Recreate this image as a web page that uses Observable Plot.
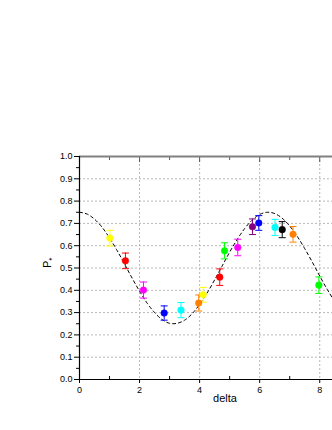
<!DOCTYPE html>
<html>
<head>
<meta charset="utf-8">
<script src="https://cdn.jsdelivr.net/npm/d3@7"></script>
<script src="https://cdn.jsdelivr.net/npm/@observablehq/plot@0.6"></script>
<style>
  html, body { margin: 0; padding: 0; background: #fff; overflow: hidden; }
  #chart { width: 332px; height: 430px; overflow: hidden; }
  #chart svg { max-width: none !important; height: 430px !important; width: 380px !important; display: block; }
</style>
</head>
<body>
<div id="chart"></div>
<script>
// measured points
const deltas = [1.01, 1.53, 2.13, 2.82, 3.38, 3.97, 4.12, 4.67, 4.83, 5.27, 5.76, 5.97, 6.51, 6.75, 7.11, 7.97];
const pvals  = [0.634, 0.532, 0.401, 0.298, 0.311, 0.343, 0.380, 0.459, 0.577, 0.592, 0.685, 0.702, 0.682, 0.672, 0.651, 0.423];
const errs   = [0.035, 0.035, 0.036, 0.032, 0.034, 0.036, 0.033, 0.037, 0.036, 0.037, 0.035, 0.033, 0.036, 0.036, 0.035, 0.037];
const colors = ["#ffff00", "#ff0000", "#ff00ff", "#0000ff", "#00ffff", "#ff8000", "#ffff00", "#ff0000",
                "#00ff00", "#ff00ff", "#800080", "#0000ff", "#00ffff", "#000000", "#ff8000", "#00ff00"];

// dashed theory curve
const curveX = [0, 0.25, 0.5, 0.75, 1, 1.25, 1.5, 1.75, 2, 2.25, 2.5, 2.75, 3, 3.25, 3.5, 3.75, 4, 4.25,
                4.5, 4.75, 5, 5.25, 5.5, 5.75, 6, 6.25, 6.5, 6.75, 7, 7.25, 7.5, 7.75, 8, 8.25, 8.5];
const curveY = [0.750, 0.742, 0.719, 0.683, 0.635, 0.579, 0.518, 0.455, 0.396, 0.343, 0.300, 0.269, 0.252, 0.252,
                0.266, 0.295, 0.337, 0.388, 0.447, 0.509, 0.571, 0.628, 0.677, 0.715, 0.740, 0.750, 0.744, 0.723,
                0.688, 0.642, 0.587, 0.527, 0.464, 0.404, 0.349];

// axis ticks
const yMajor = [0, 0.1, 0.2, 0.3, 0.4, 0.5, 0.6, 0.7, 0.8, 0.9, 1.0];
const yMinor = [0.05, 0.15, 0.25, 0.35, 0.45, 0.55, 0.65, 0.75, 0.85, 0.95];
const yGrid  = [0.1, 0.2, 0.3, 0.4, 0.5, 0.6, 0.7, 0.8, 0.9];
const xMajor = [0, 2, 4, 6, 8];
const xMinor = [1, 3, 5, 7, 9];
const xGrid  = [2, 4, 6, 8];

const points = deltas.map((d, i) => ({x: d, y: pvals[i], lo: pvals[i] - errs[i], hi: pvals[i] + errs[i], c: colors[i]}));
const curve = curveX.map((d, i) => ({x: d, y: curveY[i]}));

const capSymbol = {
  draw(ctx, size) {
    const r = Math.sqrt(size / Math.PI);
    ctx.moveTo(-r, 0);
    ctx.lineTo(r, 0);
  }
};

const chart = Plot.plot({
  width: 380,
  height: 430,
  marginLeft: 79,
  marginRight: 10,
  marginTop: 156,
  marginBottom: 51,
  style: {fontFamily: "'Liberation Sans', Arial, sans-serif", fontSize: "9px", background: "#fff", maxWidth: "none"},
  x: {domain: [0, 9.69]},
  y: {domain: [0, 1]},
  marks: [
    Plot.gridY(yGrid, {stroke: "#b8b8b8", strokeOpacity: 1, strokeDasharray: "2,2"}),
    Plot.gridX(xGrid, {stroke: "#b8b8b8", strokeOpacity: 1, strokeDasharray: "2,2"}),
    Plot.axisY(yMajor, {tickSize: 5, tickPadding: 2, tickFormat: d3.format(".1f"), label: null, fontSize: 9, color: "#000"}),
    Plot.axisY(yMinor, {tickSize: 3, tickFormat: () => "", label: null}),
    Plot.axisX(xMajor, {tickSize: 4, tickPadding: 3, tickFormat: d3.format("d"), label: null, fontSize: 9}),
    Plot.axisX(xMinor, {tickSize: 3, dy: -3, tickFormat: () => "", label: null}),
    Plot.axisX(xMajor, {anchor: "top", tickSize: 5, dy: 5, tickFormat: () => "", label: null, stroke: "#555"}),
    Plot.axisX(xMinor, {anchor: "top", tickSize: 3, dy: 3, tickFormat: () => "", label: null, stroke: "#555"}),
    Plot.ruleY([1], {stroke: "#808080", strokeWidth: 2}),
    Plot.ruleY([0], {stroke: "#000", strokeWidth: 1.2}),
    Plot.ruleX([0], {stroke: "#000", strokeWidth: 1.2}),
    Plot.line(curve, {x: "x", y: "y", stroke: "#000", strokeWidth: 1, strokeDasharray: "3,3", curve: "natural"}),
    Plot.ruleX(points, {x: "x", y1: "lo", y2: "hi", stroke: "c", strokeWidth: 1}),
    Plot.dot(points, {x: "x", y: "hi", symbol: capSymbol, r: 3.5, stroke: "c", strokeWidth: 1, fill: "none"}),
    Plot.dot(points, {x: "x", y: "lo", symbol: capSymbol, r: 3.5, stroke: "c", strokeWidth: 1, fill: "none"}),
    Plot.dot(points, {x: "x", y: "y", r: 3.3, fill: "c", stroke: "c", strokeWidth: 0.5}),
    Plot.text(["P\u208A"], {frameAnchor: "left", rotate: -90, dx: -32, fontSize: 11, fill: "#000"}),
    Plot.text(["delta"], {frameAnchor: "bottom", dy: 22, fontSize: 11, fill: "#000"})
  ]
});

document.getElementById("chart").appendChild(chart);
</script>
</body>
</html>
